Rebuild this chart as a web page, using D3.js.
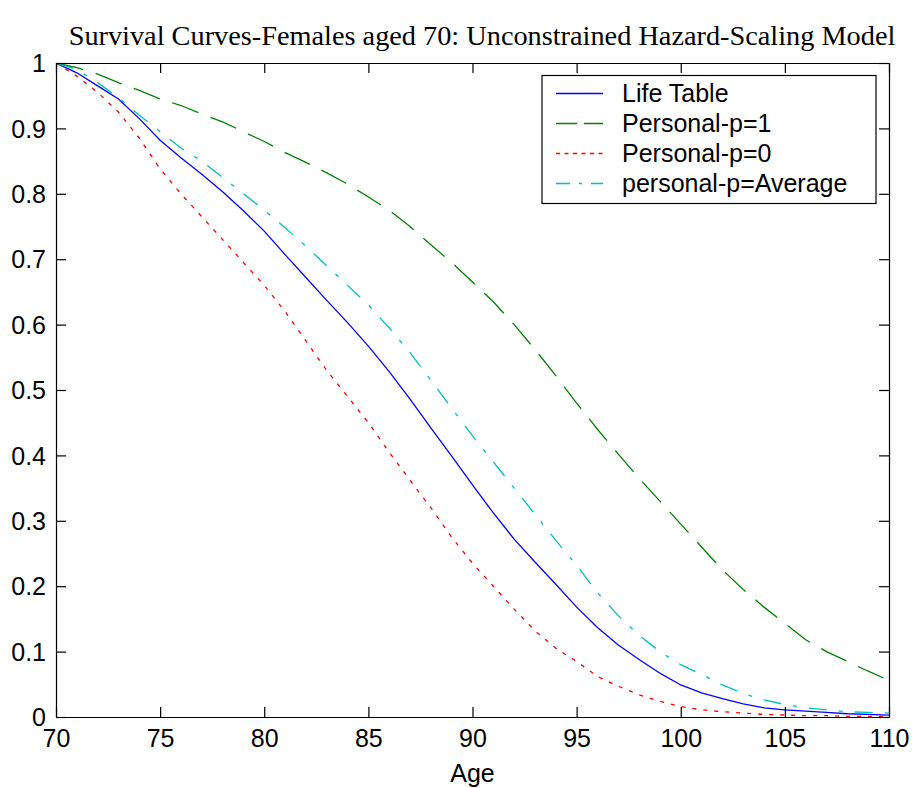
<!DOCTYPE html>
<html>
<head>
<meta charset="utf-8">
<script src="https://cdn.jsdelivr.net/npm/d3@7"></script>
<style>
  html, body { margin: 0; padding: 0; background: #fff; }
  svg { display: block; }
</style>
</head>
<body>
<svg id="chart" width="915" height="788"></svg>
<script>
// ---- Data ----
const ages = [70,71,72,73,74,75,76,77,78,79,80,81,82,83,84,85,86,87,88,89,90,
              91,92,93,94,95,96,97,98,99,100,101,102,103,104,105,106,107,108,109,110];

const lifeTable = [1.000,0.985,0.965,0.945,0.915,0.882,0.855,0.830,0.803,0.774,0.743,0.707,0.672,0.637,0.603,0.567,0.528,0.486,0.442,0.399,0.355,
                   0.312,0.272,0.237,0.203,0.168,0.137,0.110,0.088,0.067,0.049,0.037,0.028,0.020,0.014,0.011,0.009,0.007,0.005,0.004,0.003];

const personalP1 = [1.000,0.993,0.983,0.970,0.958,0.945,0.935,0.922,0.910,0.895,0.880,0.863,0.848,0.832,0.815,0.795,0.775,0.750,0.722,0.695,0.665,
                    0.635,0.600,0.562,0.522,0.480,0.440,0.402,0.365,0.330,0.295,0.260,0.225,0.195,0.168,0.143,0.118,0.100,0.085,0.070,0.056];

const personalP0 = [1.000,0.980,0.955,0.925,0.885,0.838,0.800,0.765,0.730,0.695,0.660,0.620,0.575,0.530,0.490,0.450,0.405,0.362,0.320,0.275,0.235,
                    0.200,0.165,0.132,0.105,0.085,0.062,0.047,0.034,0.024,0.016,0.011,0.008,0.006,0.004,0.003,0.002,0.002,0.001,0.001,0.001];

const personalAvg = [1.000,0.990,0.970,0.947,0.920,0.895,0.870,0.850,0.825,0.800,0.775,0.748,0.720,0.690,0.660,0.630,0.595,0.557,0.515,0.472,0.430,
                     0.390,0.350,0.310,0.270,0.232,0.190,0.155,0.125,0.100,0.080,0.065,0.049,0.036,0.026,0.019,0.014,0.011,0.008,0.007,0.006];

const seriesNames = ["Life Table", "Personal-p=1", "Personal-p=0", "personal-p=Average"];
const xTicks = [70,75,80,85,90,95,100,105,110];
const yTicks = [0,0.1,0.2,0.3,0.4,0.5,0.6,0.7,0.8,0.9,1];
const titleText = "Survival Curves-Females aged 70: Unconstrained Hazard-Scaling Model";
const xLabel = "Age";

// ---- Layout / style ----
const plot = { left: 56, right: 889, top: 63, bottom: 717 };
const styles = [
  { color: "#0000ff", dash: null,          legendDash: null },
  { color: "#008000", dash: "28,13",       legendDash: "21,7" },
  { color: "#ff0000", dash: "4,7",         legendDash: "4,4.5" },
  { color: "#00bfbf", dash: "18,12,4,12",  legendDash: "14,9,3,9" }
];
const seriesValues = [lifeTable, personalP1, personalP0, personalAvg];

const svg = d3.select("#chart");
const x = d3.scaleLinear().domain([70, 110]).range([plot.left, plot.right]);
const y = d3.scaleLinear().domain([0, 1]).range([plot.bottom, plot.top]);

const tickFont = "Liberation Sans, Arial, sans-serif";
const tickSize = 10;

// Title
svg.append("text")
  .attr("x", 482)
  .attr("y", 45)
  .attr("text-anchor", "middle")
  .attr("font-family", "Liberation Serif, Times New Roman, serif")
  .attr("font-size", 28.3)
  .attr("fill", "#000")
  .text(titleText);

// Curves (clipped to plot)
svg.append("clipPath").attr("id", "clip")
  .append("rect")
  .attr("x", plot.left).attr("y", plot.top)
  .attr("width", plot.right - plot.left).attr("height", plot.bottom - plot.top);

const line = d3.line().x((d, i) => x(ages[i])).y(d => y(d));
const curves = svg.append("g").attr("clip-path", "url(#clip)");
seriesValues.forEach((vals, k) => {
  curves.append("path")
    .datum(vals)
    .attr("d", line)
    .attr("fill", "none")
    .attr("stroke", styles[k].color)
    .attr("stroke-width", 1.3)
    .attr("stroke-dasharray", styles[k].dash);
});

// Axes
function styleAxis(g) {
  g.selectAll(".domain").attr("stroke", "#000").attr("stroke-width", 1.2);
  g.selectAll(".tick line").attr("stroke", "#000").attr("stroke-width", 1.2);
  g.selectAll(".tick text")
    .attr("font-family", tickFont).attr("font-size", 25).attr("fill", "#000");
}

const fmt = d => (d === 0 ? "0" : d === 1 ? "1" : d3.format(".1f")(d));

svg.append("g")
  .attr("transform", `translate(0,${plot.bottom})`)
  .call(d3.axisBottom(x).tickValues(xTicks).tickSizeInner(-tickSize).tickSizeOuter(0).tickFormat(d3.format("d")))
  .call(styleAxis)
  .call(g => g.selectAll(".tick text").attr("dy", "0.71em").attr("y", 12));

svg.append("g")
  .attr("transform", `translate(0,${plot.top})`)
  .call(d3.axisTop(x).tickValues(xTicks).tickSizeInner(-tickSize).tickSizeOuter(0).tickFormat(""))
  .call(styleAxis);

svg.append("g")
  .attr("transform", `translate(${plot.left},0)`)
  .call(d3.axisLeft(y).tickValues(yTicks).tickSizeInner(-tickSize).tickSizeOuter(0).tickFormat(fmt))
  .call(styleAxis)
  .call(g => g.selectAll(".tick text").attr("x", -10).attr("dy", "0.35em"));

svg.append("g")
  .attr("transform", `translate(${plot.right},0)`)
  .call(d3.axisRight(y).tickValues(yTicks).tickSizeInner(-tickSize).tickSizeOuter(0).tickFormat(""))
  .call(styleAxis);

// x label
svg.append("text")
  .attr("x", (plot.left + plot.right) / 2)
  .attr("y", 782)
  .attr("text-anchor", "middle")
  .attr("font-family", tickFont)
  .attr("font-size", 25)
  .attr("fill", "#000")
  .text(xLabel);

// Legend
const legend = svg.append("g");
legend.append("rect")
  .attr("x", 542).attr("y", 75.5).attr("width", 334).attr("height", 128)
  .attr("fill", "#fff").attr("stroke", "#000").attr("stroke-width", 1.2);

seriesNames.forEach((name, k) => {
  const cy = 93.5 + k * 30;
  legend.append("line")
    .attr("x1", 556).attr("x2", 603).attr("y1", cy).attr("y2", cy)
    .attr("stroke", styles[k].color).attr("stroke-width", 1.5)
    .attr("stroke-dasharray", styles[k].legendDash);
  legend.append("text")
    .attr("x", 622).attr("y", cy).attr("dy", "0.35em")
    .attr("font-family", tickFont).attr("font-size", 25).attr("fill", "#000")
    .text(name);
});
</script>
</body>
</html>
